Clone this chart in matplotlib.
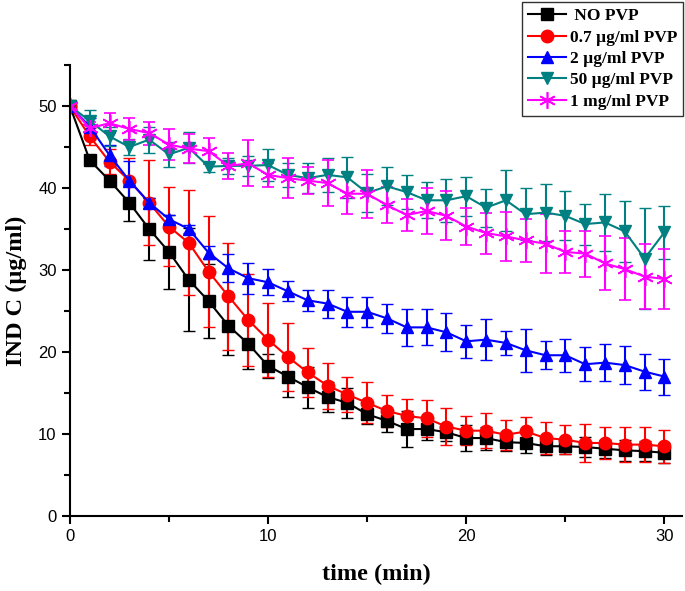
import matplotlib
matplotlib.use("Agg")
import matplotlib.pyplot as plt
from matplotlib.ticker import MultipleLocator

# time points (min)
time = list(range(31))

# NO PVP
no_pvp = [50, 43.4, 40.9, 38.2, 35.0, 32.2, 28.8, 26.2, 23.2, 21.0, 18.3,
          17.0, 15.7, 14.5, 13.8, 12.4, 11.6, 10.6, 10.6, 10.2, 9.5,
          9.5, 9.0, 8.9, 8.5, 8.5, 8.4, 8.2, 8.0, 7.9, 7.7]
no_pvp_err = [0.3, 0.6, 0.7, 2.2, 3.8, 4.5, 6.3, 4.5, 3.6, 3.1, 1.5,
              2.5, 2.5, 1.8, 1.8, 1.2, 1.4, 2.2, 1.3, 1.0, 1.6,
              1.4, 1.1, 1.2, 1.1, 1.0, 1.2, 1.1, 1.3, 1.2, 1.2]

# 0.7 ug/ml PVP
pvp_07 = [50, 46.3, 43.2, 40.9, 38.2, 35.3, 33.3, 29.8, 26.8, 23.9, 21.5,
          19.4, 17.5, 15.9, 14.8, 13.8, 12.8, 12.2, 11.9, 10.9, 10.4,
          10.4, 9.9, 10.3, 9.5, 9.3, 8.9, 8.9, 8.7, 8.7, 8.5]
pvp_07_err = [0.3, 1.0, 1.5, 2.8, 5.2, 4.8, 6.4, 6.8, 6.5, 5.6, 4.5,
              4.1, 3.0, 2.8, 2.1, 2.5, 2.0, 2.1, 2.3, 2.3, 1.8,
              2.1, 1.8, 1.8, 1.9, 1.8, 2.3, 1.9, 2.1, 2.1, 2.0]

# 2 ug/ml PVP
pvp_2 = [50, 47.5, 44.0, 40.9, 38.2, 36.2, 35.0, 32.1, 30.2, 29.0, 28.5,
         27.4, 26.3, 25.9, 24.9, 24.9, 24.1, 23.0, 23.0, 22.4, 21.3,
         21.5, 21.1, 20.2, 19.6, 19.6, 18.5, 18.7, 18.4, 17.6, 17.0]
pvp_2_err = [0.3, 1.0, 1.3, 2.4, 0.6, 0.5, 0.5, 0.8, 1.7, 1.9, 1.6,
             1.2, 1.3, 1.7, 1.8, 1.8, 1.8, 2.3, 2.2, 2.3, 2.0,
             2.5, 1.5, 2.6, 1.7, 2.0, 2.1, 2.3, 2.3, 2.2, 2.2]

# 50 ug/ml PVP
pvp_50 = [50, 48.2, 46.3, 45.0, 45.9, 44.1, 44.9, 42.6, 42.7, 42.7, 42.8,
          41.6, 41.2, 41.6, 41.3, 39.4, 40.2, 39.5, 38.5, 38.5, 39.0,
          37.6, 38.5, 36.8, 37.0, 36.6, 35.6, 35.8, 34.7, 31.4, 34.6]
pvp_50_err = [0.3, 1.3, 1.2, 1.0, 1.6, 1.5, 1.9, 0.6, 1.0, 1.2, 2.0,
              1.5, 1.8, 2.1, 2.5, 2.3, 2.3, 2.1, 2.2, 2.6, 2.4,
              2.3, 3.7, 3.2, 3.5, 3.0, 2.5, 3.5, 3.7, 6.2, 3.2]

# 1 mg/ml PVP
pvp_1mg = [50, 47.3, 47.9, 47.2, 46.7, 45.3, 44.8, 44.5, 42.7, 43.0, 41.6,
           41.2, 40.9, 40.6, 39.3, 39.3, 37.9, 36.7, 37.2, 36.6, 35.3,
           34.5, 34.1, 33.6, 33.2, 32.2, 32.0, 30.8, 30.1, 29.2, 28.9]
pvp_1mg_err = [0.3, 0.8, 1.2, 1.3, 1.4, 1.9, 1.8, 1.6, 1.6, 2.8, 1.5,
               2.4, 1.6, 2.8, 2.5, 2.9, 2.2, 2.0, 2.8, 3.0, 2.3,
               2.5, 3.0, 2.6, 3.6, 2.6, 2.8, 3.3, 3.8, 4.0, 3.6]

series = [
    (" NO PVP", no_pvp, no_pvp_err, "black", "s", 8),
    ("0.7 \u00b5g/ml PVP", pvp_07, pvp_07_err, "#ff0000", "o", 9),
    ("2 \u00b5g/ml PVP", pvp_2, pvp_2_err, "#0000ff", "^", 9),
    ("50 \u00b5g/ml PVP", pvp_50, pvp_50_err, "#008080", "v", 9),
    ("1 mg/ml PVP", pvp_1mg, pvp_1mg_err, "#ff00ff", (6, 2, 0), 12),
]

fig = plt.figure(figsize=(6.85, 5.91), dpi=100)
ax = fig.add_axes([0.102, 0.127, 0.894, 0.763])

line_handles = []
labels = []
for label, y, err, color, marker, ms in series:
    cont = ax.errorbar(time, y, yerr=err, color=color, marker=marker, markersize=ms,
                       linewidth=1.5, elinewidth=1.5, capsize=4, capthick=1.5,
                       markeredgewidth=1.2 if marker == (6, 2, 0) else 1.0)
    line_handles.append(cont[0])
    labels.append(label)

ax.set_xlim(0, 30.9)
ax.set_ylim(0, 55)
ax.xaxis.set_major_locator(MultipleLocator(10))
ax.xaxis.set_minor_locator(MultipleLocator(5))
ax.yaxis.set_major_locator(MultipleLocator(10))
ax.yaxis.set_minor_locator(MultipleLocator(5))
ax.tick_params(which="both", direction="out", width=1.5, labelsize=12)
ax.tick_params(which="major", length=6)
ax.tick_params(which="minor", length=4)
for lab in ax.get_xticklabels() + ax.get_yticklabels():
    lab.set_family("Liberation Sans")
ax.spines["top"].set_visible(False)
ax.spines["right"].set_visible(False)
ax.spines["left"].set_linewidth(1.5)
ax.spines["bottom"].set_linewidth(1.5)

ax.set_xlabel("time (min)", fontfamily="Liberation Serif", fontweight="bold",
              fontsize=17.5, labelpad=14)
ax.set_ylabel("IND C (\u00b5g/ml)", fontfamily="Liberation Serif", fontweight="bold",
              fontsize=17.5, labelpad=8)

leg = fig.legend(line_handles, labels, loc="upper right",
                 bbox_to_anchor=(683 / 685, 1 - 2 / 591),
                 bbox_transform=fig.transFigure,
                 prop={"family": "Liberation Serif", "weight": "bold", "size": 12.5},
                 frameon=True, fancybox=False, edgecolor="black",
                 handlelength=2.2, handletextpad=0.2, labelspacing=0.3,
                 borderpad=0.35, borderaxespad=0.0)
leg.get_frame().set_linewidth(1.0)

fig.savefig("out.png", dpi=100)
